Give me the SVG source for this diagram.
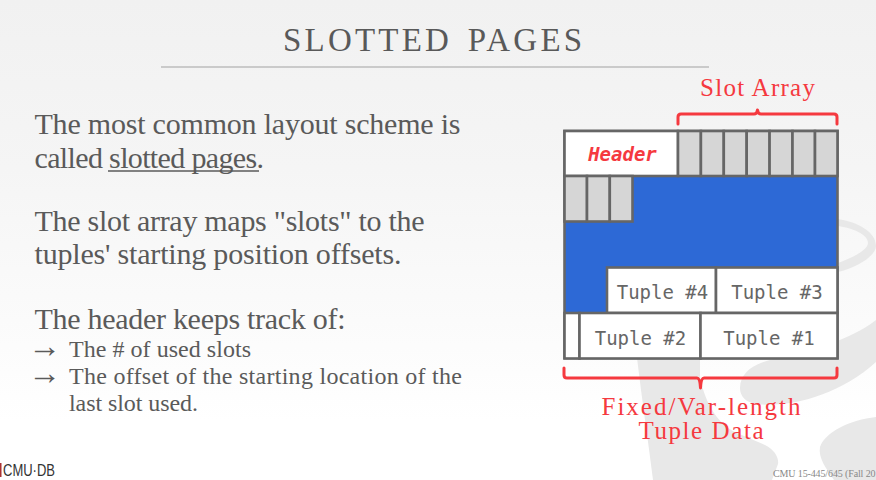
<svg xmlns="http://www.w3.org/2000/svg" width="876" height="480" viewBox="0 0 876 480">
<defs>
<linearGradient id="bg" x1="0" y1="0" x2="0" y2="1"><stop offset="0" stop-color="#f1f1f1"/><stop offset="0.35" stop-color="#f5f5f5"/><stop offset="0.88" stop-color="#ffffff"/></linearGradient>
</defs>
<style>
.body{font-family:"Liberation Serif",serif;fill:#5a5a5a}
.big{font-size:30px}
.small{font-size:24px}
.arrow{font-size:33px}
.red{font-family:"Liberation Serif",serif;fill:#f5393f;font-size:25px;text-anchor:middle}
.cell{stroke:#666666;stroke-width:2.6}
.slot{fill:#d6d6d6}
.tuple{fill:#ffffff}
.mono{font-family:"DejaVu Sans Mono","Liberation Mono",monospace;font-size:19px;fill:#666666;text-anchor:middle}
.brace{fill:none;stroke:#f5393f;stroke-width:3;stroke-linecap:round;stroke-linejoin:round}
</style>
<rect width="876" height="480" fill="url(#bg)"/>
<g id="watermark" fill="#e8e8e8">
<path d="M838 219 C858 222 876 232 876 246 C876 256 856 268 838 272 L838 263 C852 258 868 250 868 243 C868 234 852 228 838 226Z"/>
<path d="M876 320 C850 340 810 352 770 360 C750 365 740 375 740 388 C740 396 745 402 756 404 C790 408 840 395 876 362Z"/>
<path d="M876 417 C850 420 825 432 820 447 C818 458 826 468 834 480 L876 480Z"/>
<path d="M637 358 L700 358 L700 376 C703 396 715 424 737 433 L765 445 C775 450 779 458 778 464 L772 480 L653 480 C648 440 642 400 637 358Z"/>
</g>
<g id="title">
<text x="283" y="51" font-family="'Liberation Serif',serif" font-size="33" fill="#595959" letter-spacing="3.200" word-spacing="4.300">SLOTTED PAGES</text>
<line x1="161" y1="67" x2="709" y2="67" stroke="#bdbdbd" stroke-width="1.6"/>
</g>
<g id="bullets">
<text class="body big" x="34.500" y="134" textLength="426">The most common layout scheme is</text>
<text class="body big" x="34.500" y="168" textLength="229.500">called slotted pages.</text>
<line x1="108" y1="171" x2="259" y2="171" stroke="#5a5a5a" stroke-width="1.3"/>
<text class="body big" x="34.500" y="231" textLength="390">The slot array maps "slots" to the</text>
<text class="body big" x="34.500" y="264" textLength="367">tuples' starting position offsets.</text>
<text class="body big" x="34.500" y="329" textLength="311">The header keeps track of:</text>
<text class="body arrow" x="28" y="357">→</text>
<text class="body small" x="69" y="357" textLength="182">The # of used slots</text>
<text class="body arrow" x="28" y="384">→</text>
<text class="body small" x="69" y="384" textLength="393">The offset of the starting location of the</text>
<text class="body small" x="69" y="411" textLength="129">last slot used.</text>
</g>
<g id="connectors">
<path class="brace" d="M678 124 V117 Q678 114 681 114 H754 Q757 114 757.500 110 Q758 114 761 114 H834 Q837 114 837 117 V124"/>
<path class="brace" d="M564 368 V375 Q564 378 567 378 H697 Q700 378 700.500 388 Q701 378 704 378 H834 Q837 378 837 375 V368"/>
</g>
<g id="page-background">
<rect x="564.500" y="131" width="273" height="227" fill="#2d69d6" class="cell"/>
</g>
<g id="header">
<rect class="cell tuple" x="564.500" y="131" width="113.500" height="45"/>
<text x="622.500" y="161" font-family="'DejaVu Sans Mono',monospace" font-size="19" font-weight="bold" font-style="italic" fill="#f5393f" text-anchor="middle">Header</text>
</g>
<g id="slot-array">
<rect class="cell slot" x="678" y="131" width="22.900" height="45"/>
<rect class="cell slot" x="700.900" y="131" width="22.900" height="45"/>
<rect class="cell slot" x="723.800" y="131" width="22.900" height="45"/>
<rect class="cell slot" x="746.700" y="131" width="22.900" height="45"/>
<rect class="cell slot" x="769.600" y="131" width="22.900" height="45"/>
<rect class="cell slot" x="792.500" y="131" width="22.500" height="45"/>
<rect class="cell slot" x="815" y="131" width="22.500" height="45"/>
<rect class="cell slot" x="564.500" y="176" width="22.500" height="45.500"/>
<rect class="cell slot" x="587" y="176" width="22.800" height="45.500"/>
<rect class="cell slot" x="609.800" y="176" width="22.700" height="45.500"/>
</g>
<g id="tuple-4"><rect class="cell tuple" x="607" y="267.500" width="109" height="45.500"/><text class="mono" x="662.500" y="299">Tuple #4</text></g>
<g id="tuple-3"><rect class="cell tuple" x="716" y="267.500" width="121.500" height="45.500"/><text class="mono" x="777" y="299">Tuple #3</text></g>
<g id="free-cell"><rect class="cell tuple" x="564.500" y="313" width="15" height="45.500"/></g>
<g id="tuple-2"><rect class="cell tuple" x="579.500" y="313" width="121" height="45.500"/><text class="mono" x="640.500" y="345">Tuple #2</text></g>
<g id="tuple-1"><rect class="cell tuple" x="700.500" y="313" width="137" height="45.500"/><text class="mono" x="769" y="345">Tuple #1</text></g>
<g id="labels">
<text class="red" x="757.500" y="96" textLength="115">Slot Array</text>
<text class="red" x="701" y="415" textLength="199">Fixed/Var-length</text>
<text class="red" x="701" y="439" textLength="125">Tuple Data</text>
</g>
<g id="footer">
<rect x="0" y="463" width="1.500" height="14" fill="#a33"/>
<text x="3" y="476" font-family="'Liberation Sans',sans-serif" font-size="16" fill="#333333" textLength="52" lengthAdjust="spacingAndGlyphs">CMU·DB</text>
<text x="773" y="477" font-family="'Liberation Serif',serif" font-size="10" fill="#888888" textLength="102.500">CMU 15-445/645 (Fall 20</text>
</g>
</svg>
